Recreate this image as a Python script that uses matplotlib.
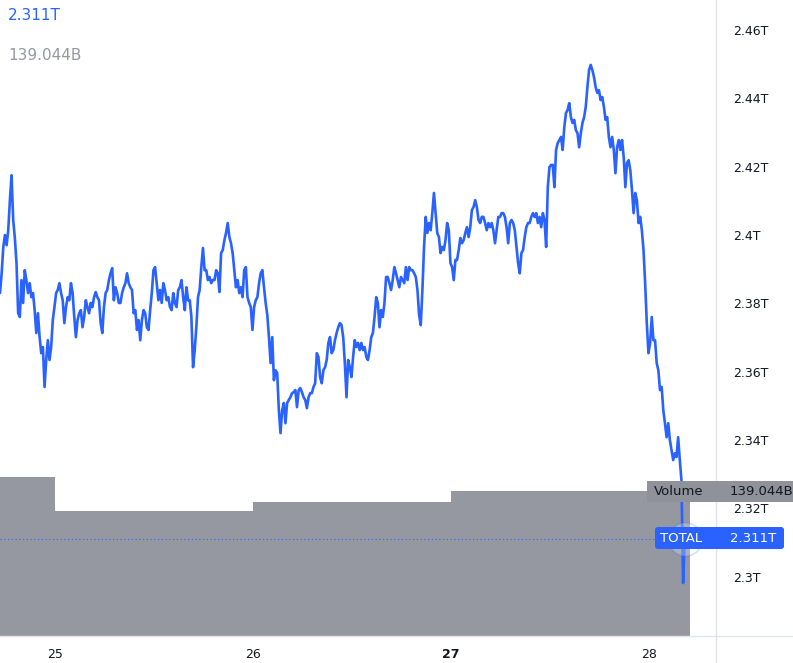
import numpy as np
import pandas as pd
import matplotlib
matplotlib.use("Agg")
import matplotlib.pyplot as plt
import matplotlib.dates as mdates
from matplotlib.patches import FancyBboxPatch, Rectangle
from matplotlib.lines import Line2D

# ---------------- data ----------------
series_start = "2021-10-24 17:20"
sample_step = "12min"
total_values = [  # total crypto market cap, trillions USD
    2.3830, 2.3888, 2.3965, 2.4000, 2.3970, 2.4014, 2.4102, 2.4175, 2.4044, 2.3991,
    2.3918, 2.3771, 2.3760, 2.3868, 2.3801, 2.3897, 2.3868, 2.3830, 2.3859, 2.3818,
    2.3830, 2.3780, 2.3713, 2.3771, 2.3701, 2.3654, 2.3672, 2.3555, 2.3634, 2.3692,
    2.3634, 2.3672, 2.3751, 2.3789, 2.3830, 2.3839, 2.3859, 2.3830, 2.3809, 2.3742,
    2.3789, 2.3818, 2.3809, 2.3859, 2.3830, 2.3760, 2.3701, 2.3751, 2.3771, 2.3780,
    2.3730, 2.3760, 2.3809, 2.3789, 2.3771, 2.3801, 2.3789, 2.3818, 2.3833, 2.3818,
    2.3809, 2.3742, 2.3713, 2.3789, 2.3830, 2.3839, 2.3868, 2.3888, 2.3903, 2.3809,
    2.3847, 2.3830, 2.3801, 2.3801, 2.3830, 2.3847, 2.3859, 2.3888, 2.3859, 2.3847,
    2.3839, 2.3771, 2.3780, 2.3722, 2.3751, 2.3692, 2.3751, 2.3780, 2.3771, 2.3730,
    2.3722, 2.3780, 2.3830, 2.3897, 2.3906, 2.3859, 2.3809, 2.3839, 2.3801, 2.3859,
    2.3839, 2.3809, 2.3818, 2.3789, 2.3780, 2.3830, 2.3801, 2.3789, 2.3839, 2.3847,
    2.3868, 2.3818, 2.3780, 2.3847, 2.3809, 2.3809, 2.3760, 2.3613, 2.3663, 2.3730,
    2.3818, 2.3839, 2.3906, 2.3962, 2.3897, 2.3897, 2.3868, 2.3877, 2.3859, 2.3868,
    2.3868, 2.3897, 2.3888, 2.3833, 2.3947, 2.3956, 2.3985, 2.4006, 2.4035, 2.3994,
    2.3976, 2.3947, 2.3897, 2.3847, 2.3868, 2.3830, 2.3847, 2.3818, 2.3897, 2.3906,
    2.3818, 2.3801, 2.3789, 2.3722, 2.3789, 2.3809, 2.3818, 2.3859, 2.3888, 2.3897,
    2.3847,
    2.3801, 2.3766, 2.3701, 2.3625, 2.3701, 2.3575, 2.3604, 2.3596, 2.3487, 2.3420,
    2.3487, 2.3508, 2.3449, 2.3508, 2.3517, 2.3525, 2.3537, 2.3540, 2.3546, 2.3496,
    2.3546, 2.3552, 2.3540, 2.3525, 2.3517, 2.3493, 2.3525, 2.3537, 2.3537, 2.3555,
    2.3566, 2.3654, 2.3643, 2.3584, 2.3566, 2.3604, 2.3613, 2.3634, 2.3684, 2.3701,
    2.3654, 2.3663, 2.3692, 2.3713, 2.3730, 2.3742, 2.3736, 2.3701, 2.3625, 2.3525,
    2.3634, 2.3613, 2.3584, 2.3643, 2.3692, 2.3672, 2.3684, 2.3663, 2.3684, 2.3663,
    2.3672, 2.3643, 2.3634, 2.3663, 2.3701, 2.3713, 2.3760, 2.3818, 2.3801, 2.3730,
    2.3780, 2.3760, 2.3801, 2.3877, 2.3877, 2.3859, 2.3839, 2.3868, 2.3906, 2.3888,
    2.3868, 2.3847, 2.3877, 2.3868, 2.3859, 2.3906, 2.3868, 2.3906, 2.3897,
    2.3897, 2.3888, 2.3877, 2.3839, 2.3766, 2.3736, 2.3839, 2.3965, 2.4053, 2.4006,
    2.4035, 2.4014, 2.4064, 2.4123, 2.4064, 2.4006, 2.3994, 2.3947, 2.3965, 2.3956,
    2.3985, 2.4035, 2.4014, 2.3918, 2.3906, 2.3868, 2.3927, 2.3927, 2.3956, 2.3991,
    2.3976, 2.3985, 2.4006, 2.4023, 2.3994, 2.4023, 2.4073, 2.4082, 2.4102, 2.4082,
    2.4044, 2.4035, 2.4053, 2.4053, 2.4035, 2.4014, 2.4035, 2.4023, 2.4035, 2.4014,
    2.3976, 2.4014, 2.4053, 2.4053, 2.4064, 2.4064, 2.4053, 2.4023, 2.3976, 2.4035,
    2.4044, 2.4035, 2.4014, 2.3965, 2.3918, 2.3888, 2.3947, 2.3956, 2.3994, 2.4023,
    2.4035, 2.4035, 2.4053, 2.4064, 2.4053, 2.4064, 2.4035, 2.4053, 2.4023, 2.4064,
    2.4044, 2.3965, 2.4140, 2.4199, 2.4205, 2.4205, 2.4140, 2.4249, 2.4269, 2.4278,
    2.4287, 2.4249, 2.4316, 2.4357, 2.4366, 2.4386, 2.4345, 2.4328, 2.4337, 2.4307,
    2.4298, 2.4257, 2.4298, 2.4328, 2.4345, 2.4375, 2.4433, 2.4483, 2.4498, 2.4483,
    2.4462, 2.4433, 2.4416, 2.4424, 2.4395, 2.4404, 2.4375, 2.4337, 2.4345, 2.4287,
    2.4257, 2.4287, 2.4249, 2.4181, 2.4257, 2.4278, 2.4249, 2.4278, 2.4228, 2.4140,
    2.4211, 2.4219, 2.4190, 2.4132, 2.4064, 2.4123, 2.4102, 2.4035, 2.4053, 2.4014,
    2.3956, 2.3859, 2.3742, 2.3654, 2.3684, 2.3760, 2.3692, 2.3692, 2.3625, 2.3604,
    2.3546, 2.3555, 2.3487, 2.3449, 2.3408, 2.3449, 2.3399, 2.3370, 2.3341, 2.3361,
    2.3350, 2.3408, 2.3341, 2.3282, 2.2981, 2.3110,
]
volume_days = ["2021-10-24 00:00", "2021-10-25 00:00", "2021-10-26 00:00",
               "2021-10-27 00:00", "2021-10-28 00:00"]
volume_end = "2021-10-28 05:00"
volume_values = [152.5, 119.9, 128.5, 139.5, 139.044]  # billions USD
last_total_label = "2.311T"
last_volume_label = "139.044B"
last_total = 2.311
x_tick_dates = ["2021-10-25 00:00", "2021-10-26 00:00", "2021-10-27 00:00", "2021-10-28 00:00"]
x_tick_labels = ["25", "26", "27", "28"]
y_ticks = [2.30, 2.32, 2.34, 2.36, 2.38, 2.40, 2.42, 2.44, 2.46]

# ---------------- style ----------------
BLUE = "#2962FF"
GREY = "#9598a1"
TXT = "#131722"
SEP = "#e0e3eb"
W, H = 793, 663


def fx(x):
    return x / W


def fy(y):
    return 1 - y / H


def dnum(strings):
    return mdates.date2num(pd.to_datetime(strings, format="%Y-%m-%d %H:%M"))


fig = plt.figure(figsize=(W / 100, H / 100), dpi=100)
fig.patch.set_facecolor("white")
rect = [0, fy(636), fx(715), 636 / H]
axv = fig.add_axes(rect)
ax = fig.add_axes(rect, sharex=axv)
ax.patch.set_visible(False)

times = pd.date_range(pd.Timestamp(series_start), periods=len(total_values), freq=sample_step)
t = mdates.date2num(times)

edges = dnum(volume_days + [volume_end])
axv.stairs(volume_values, edges, fill=True, color=GREY, linewidth=0)
axv.set_ylim(0, 609.9)
axv.axis("off")

ax.plot(t, total_values, color=BLUE, lw=1.9, solid_joinstyle="round", solid_capstyle="round", zorder=3)
ax.axhline(last_total, color=BLUE, lw=0.9, ls=(0, (1, 2)), alpha=0.8, zorder=2)
ax.plot([t[-1]], [last_total], marker="o", ms=24, mfc=(1, 1, 1, 0.25),
        mec=(0.16, 0.38, 1.0, 0.2), mew=1.2, zorder=4)

ax.set_xlim(mdates.date2num(pd.Timestamp(series_start)),
            mdates.date2num(pd.Timestamp("2021-10-28 08:00")))
ax.set_ylim(2.2826, 2.4688)

ax.yaxis.tick_right()
ax.set_yticks(y_ticks)
ax.set_yticklabels([f"{v:g}T" for v in y_ticks])
ax.tick_params(axis="y", length=0, pad=13, labelsize=9, labelcolor=TXT)
ax.set_xticks(dnum(x_tick_dates))
ax.set_xticklabels(x_tick_labels)
ax.tick_params(axis="x", length=0, pad=9, labelsize=9, labelcolor=TXT)
ax.get_xticklabels()[2].set_fontweight("bold")
for a in (ax, axv):
    for s in a.spines.values():
        s.set_visible(False)

# separators
fig.add_artist(Line2D([fx(715.5), fx(715.5)], [0, 1], color=SEP, lw=1))
fig.add_artist(Line2D([0, 1], [fy(636), fy(636)], color=SEP, lw=1))

# header values
fig.text(fx(8), fy(15), last_total_label, color=BLUE, fontsize=11, va="center", ha="left")
fig.text(fx(8), fy(56), last_volume_label, color=GREY, fontsize=11, va="center", ha="left")

# volume label box
fig.add_artist(Rectangle((fx(647), fy(502)), fx(160), 21 / H, transform=fig.transFigure,
                         facecolor="#8f929a", edgecolor="none", zorder=5))
fig.text(fx(654), fy(491.5), "Volume", color=TXT, fontsize=9.5, va="center", ha="left", zorder=6)
fig.text(fx(730), fy(491.5), last_volume_label, color=TXT, fontsize=9.5, va="center", ha="left", zorder=6)

# total label box
fig.add_artist(FancyBboxPatch((fx(655), fy(549)), fx(129), 22 / H, transform=fig.transFigure,
                              boxstyle="round,pad=0,rounding_size=0.004",
                              facecolor=BLUE, edgecolor="none", zorder=5))
fig.text(fx(660), fy(538), "TOTAL", color="white", fontsize=9.5, va="center", ha="left", zorder=6)
fig.text(fx(730), fy(538), last_total_label, color="white", fontsize=9.5, va="center", ha="left", zorder=6)

fig.savefig("out.png", dpi=100, facecolor="white")
